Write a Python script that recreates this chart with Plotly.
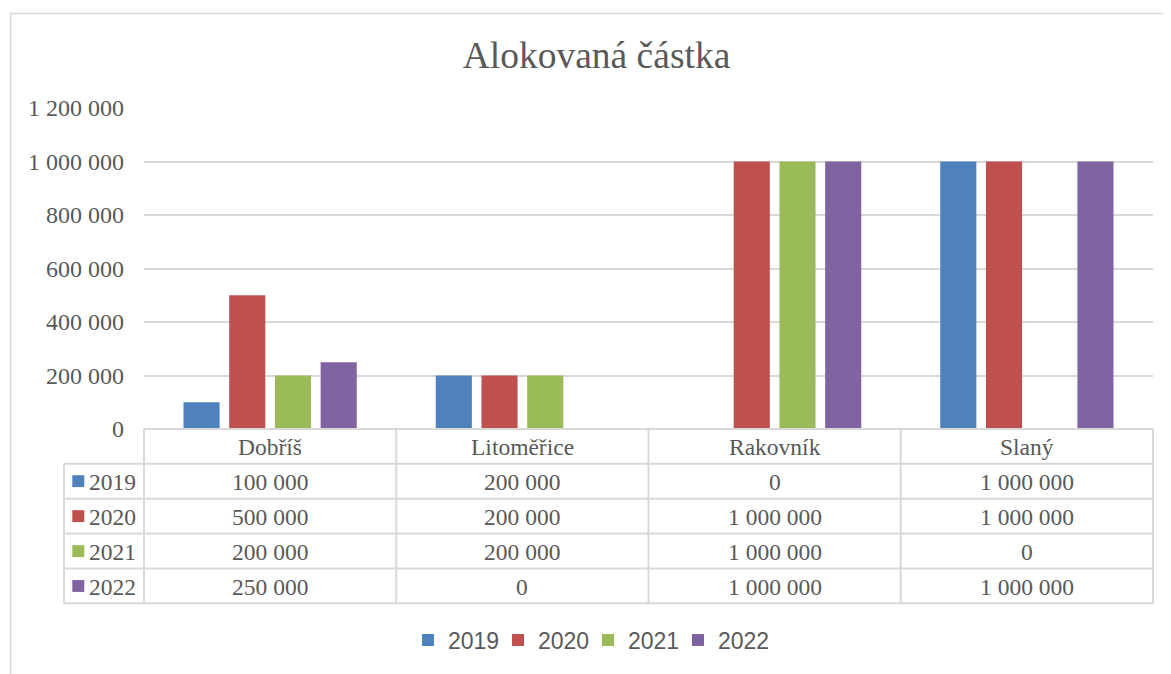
import plotly.graph_objects as go

# ---------------- data ----------------
categories = ["Dobříš", "Litoměřice", "Rakovník", "Slaný"]
years = ["2019", "2020", "2021", "2022"]
v2019 = [100000, 200000, 0, 1000000]
v2020 = [500000, 200000, 1000000, 1000000]
v2021 = [200000, 200000, 1000000, 0]
v2022 = [250000, 0, 1000000, 1000000]
y_ticks = [0, 200000, 400000, 600000, 800000, 1000000, 1200000]
title_text = "Alokovaná částka"

series = [v2019, v2020, v2021, v2022]
colors = ["#4F81BD", "#C0504D", "#9BBB59", "#8064A2"]

TEXT = "#595959"
GRID = "#D9D9D9"
SERIF = "Liberation Serif, Times New Roman, serif"
SANS = "Liberation Sans, Arial, sans-serif"

OFF = 8  # page body margin
W, H = 1171 - OFF, 674 - OFF
L, R, T, B = 144, 1153, 108, 432  # plot area in page px


def fmt(v):
    return f"{v:,}".replace(",", " ")


def px_x(px):
    return (px - L) / (R - L)


def px_y(py):
    return (B - py) / (B - T)


fig = go.Figure()
for name, vals, col in zip(years, series, colors):
    fig.add_trace(go.Bar(x=categories, y=vals, name=name,
                         marker=dict(color=col, line=dict(width=0))))

shapes = []
annotations = []

# outer chart border
shapes.append(dict(type="rect", xref="paper", yref="paper",
                   x0=px_x(10.5), x1=px_x(1185), y0=px_y(690), y1=px_y(12.5),
                   line=dict(color=GRID, width=1.5), fillcolor="rgba(0,0,0,0)",
                   layer="below"))

# data table geometry
col_edges = [L + i * (R - L) / 4 for i in range(5)]
left_x = 64
row_edges = [432, 467, 502.3, 537.6, 572.9, 608]
tbl_line = dict(color=GRID, width=2)

shapes.append(dict(type="line", xref="paper", yref="paper",
                   x0=px_x(L), x1=px_x(R), y0=px_y(row_edges[0]), y1=px_y(row_edges[0]),
                   line=tbl_line))
for ry in row_edges[1:]:
    shapes.append(dict(type="line", xref="paper", yref="paper",
                       x0=px_x(left_x), x1=px_x(R), y0=px_y(ry), y1=px_y(ry),
                       line=tbl_line))
shapes.append(dict(type="line", xref="paper", yref="paper",
                   x0=px_x(left_x), x1=px_x(left_x), y0=px_y(row_edges[1]), y1=px_y(row_edges[-1]),
                   line=tbl_line))
for cx in col_edges:
    shapes.append(dict(type="line", xref="paper", yref="paper",
                       x0=px_x(cx), x1=px_x(cx), y0=px_y(row_edges[0]), y1=px_y(row_edges[-1]),
                       line=tbl_line))

for i, cat in enumerate(categories):
    cx = (col_edges[i] + col_edges[i + 1]) / 2
    cy = (row_edges[0] + row_edges[1]) / 2 + 1
    annotations.append(dict(xref="paper", yref="paper", x=px_x(cx), y=px_y(cy),
                            text=cat, showarrow=False, xanchor="center", yanchor="middle",
                            font=dict(family=SERIF, size=23.5, color=TEXT)))

for r, (name, vals, col) in enumerate(zip(years, series, colors)):
    cy = (row_edges[r + 1] + row_edges[r + 2]) / 2
    shapes.append(dict(type="rect", xref="paper", yref="paper",
                       x0=px_x(72.3), x1=px_x(84.3), y0=px_y(cy + 6), y1=px_y(cy - 6),
                       fillcolor=col, line=dict(width=0)))
    annotations.append(dict(xref="paper", yref="paper", x=px_x(87), y=px_y(cy + 1),
                            text=name, showarrow=False, xanchor="left", yanchor="middle",
                            font=dict(family=SERIF, size=23.5, color=TEXT)))
    for i, v in enumerate(vals):
        cx = (col_edges[i] + col_edges[i + 1]) / 2
        annotations.append(dict(xref="paper", yref="paper", x=px_x(cx), y=px_y(cy + 1),
                                text=fmt(v), showarrow=False, xanchor="center", yanchor="middle",
                                font=dict(family=SERIF, size=23.5, color=TEXT)))

fig.update_layout(
    width=W, height=H,
    margin=dict(l=L - OFF, r=W - (R - OFF), t=T - OFF, b=H - (B - OFF), pad=0),
    paper_bgcolor="white", plot_bgcolor="white",
    barmode="group", bargap=0.275, bargroupgap=0.21,
    title=dict(text=title_text, x=(596.5 - OFF) / W, xref="container", xanchor="center",
               y=1 - (55 - OFF) / H, yref="container", yanchor="middle",
               font=dict(family=SERIF, size=37.5, color=TEXT)),
    xaxis=dict(showticklabels=False, showgrid=False, zeroline=False, showline=False,
               ticks=""),
    yaxis=dict(range=[0, 1200000], tickvals=y_ticks, ticktext=[fmt(v) for v in y_ticks],
               showgrid=True, gridcolor=GRID, gridwidth=1.5, zeroline=False,
               showline=False, ticks="", ticklabelstandoff=19,
               tickfont=dict(family=SERIF, size=24, color=TEXT)),
    showlegend=True,
    legend=dict(orientation="h", x=px_x(408), xanchor="left", y=px_y(645), yanchor="middle",
                font=dict(family=SANS, size=23, color=TEXT), itemwidth=30, entrywidth=45,
                bgcolor="rgba(0,0,0,0)"),
    shapes=shapes, annotations=annotations,
)

fig.write_html("out.html")
